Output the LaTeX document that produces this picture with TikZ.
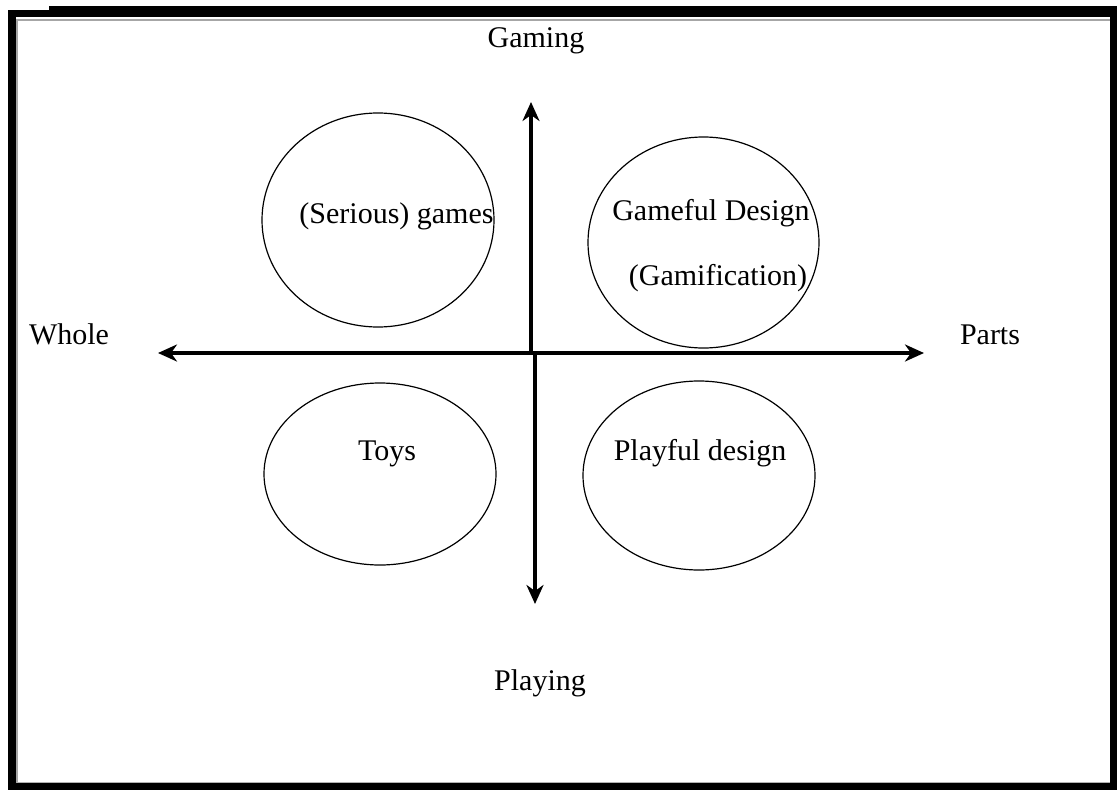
\documentclass[tikz,border=0pt]{standalone}
\usepackage{fontspec}
\setmainfont{Liberation Serif}
\usetikzlibrary{shapes.geometric,arrows.meta}
\begin{document}
\begin{tikzpicture}[x=1pt,y=1pt,
  bubble/.style={draw, ellipse, line width=1.2pt, inner sep=0pt, outer sep=0pt},
  lbl/.style={font=\fontsize{30}{35}\selectfont, inner sep=0pt, anchor=base},
  tip/.style={Stealth[length=19pt,width=17pt,inset=6pt]},
  axis/.style={line width=4.5pt, -{Stealth[length=19pt,width=17pt,inset=6pt]}},
  axis2/.style={line width=4.5pt, {Stealth[length=19pt,width=17pt,inset=6pt]}-{Stealth[length=19pt,width=17pt,inset=6pt]}}]
\useasboundingbox (0,0) rectangle (1117,-790);
\fill[white] (0,0) rectangle (1117,-790);
% frame
\fill[black] (8,-10) -- (49,-10) -- (49,-6) -- (1117,-6) -- (1117,-790) -- (8,-790) -- cycle;
\fill[white] (16,-17) rectangle (1110,-783);
\draw[gray!70, line width=2pt] (17,-783) -- (17,-19.5) -- (1110,-19.5);
\draw[gray!60, line width=1pt] (17,-782.5) -- (1110,-782.5);
% ellipses
\node[bubble, minimum width=232pt, minimum height=214pt] (sg) at (378,-220) {};
\node[bubble, minimum width=231pt, minimum height=211pt] (gd) at (703.5,-242.5) {};
\node[bubble, minimum width=232pt, minimum height=182pt] (ty) at (380,-474) {};
\node[bubble, minimum width=232pt, minimum height=189pt] (pd) at (699,-475.5) {};
% axes
\coordinate (O) at (531,-353);
\coordinate (Od) at (535,-353);
\coordinate (up) at (531,-102);
\coordinate (dn) at (535,-604);
\coordinate (lf) at (158,-353);
\coordinate (rt) at (924,-353);
\draw[axis2] (lf) -- (rt);
\draw[axis] (O) -- (up);
\draw[axis] (Od) -- (dn);
% labels
\node[lbl] (gaming) at (536,-47) {Gaming};
\node[lbl] (playing) at (540,-690) {Playing};
\node[lbl] (whole) at (69,-344) {Whole};
\node[lbl] (parts) at (990,-344) {Parts};
\node[lbl] (t1) at (396.5,-223) {(Serious) games};
\node[lbl] (t2) at (711,-220) {Gameful Design};
\node[lbl] (t3) at (718,-285) {(Gamification)};
\node[lbl] (t4) at (387,-460) {Toys};
\node[lbl] (t5) at (700,-460) {Playful design};
\end{tikzpicture}
\end{document}
